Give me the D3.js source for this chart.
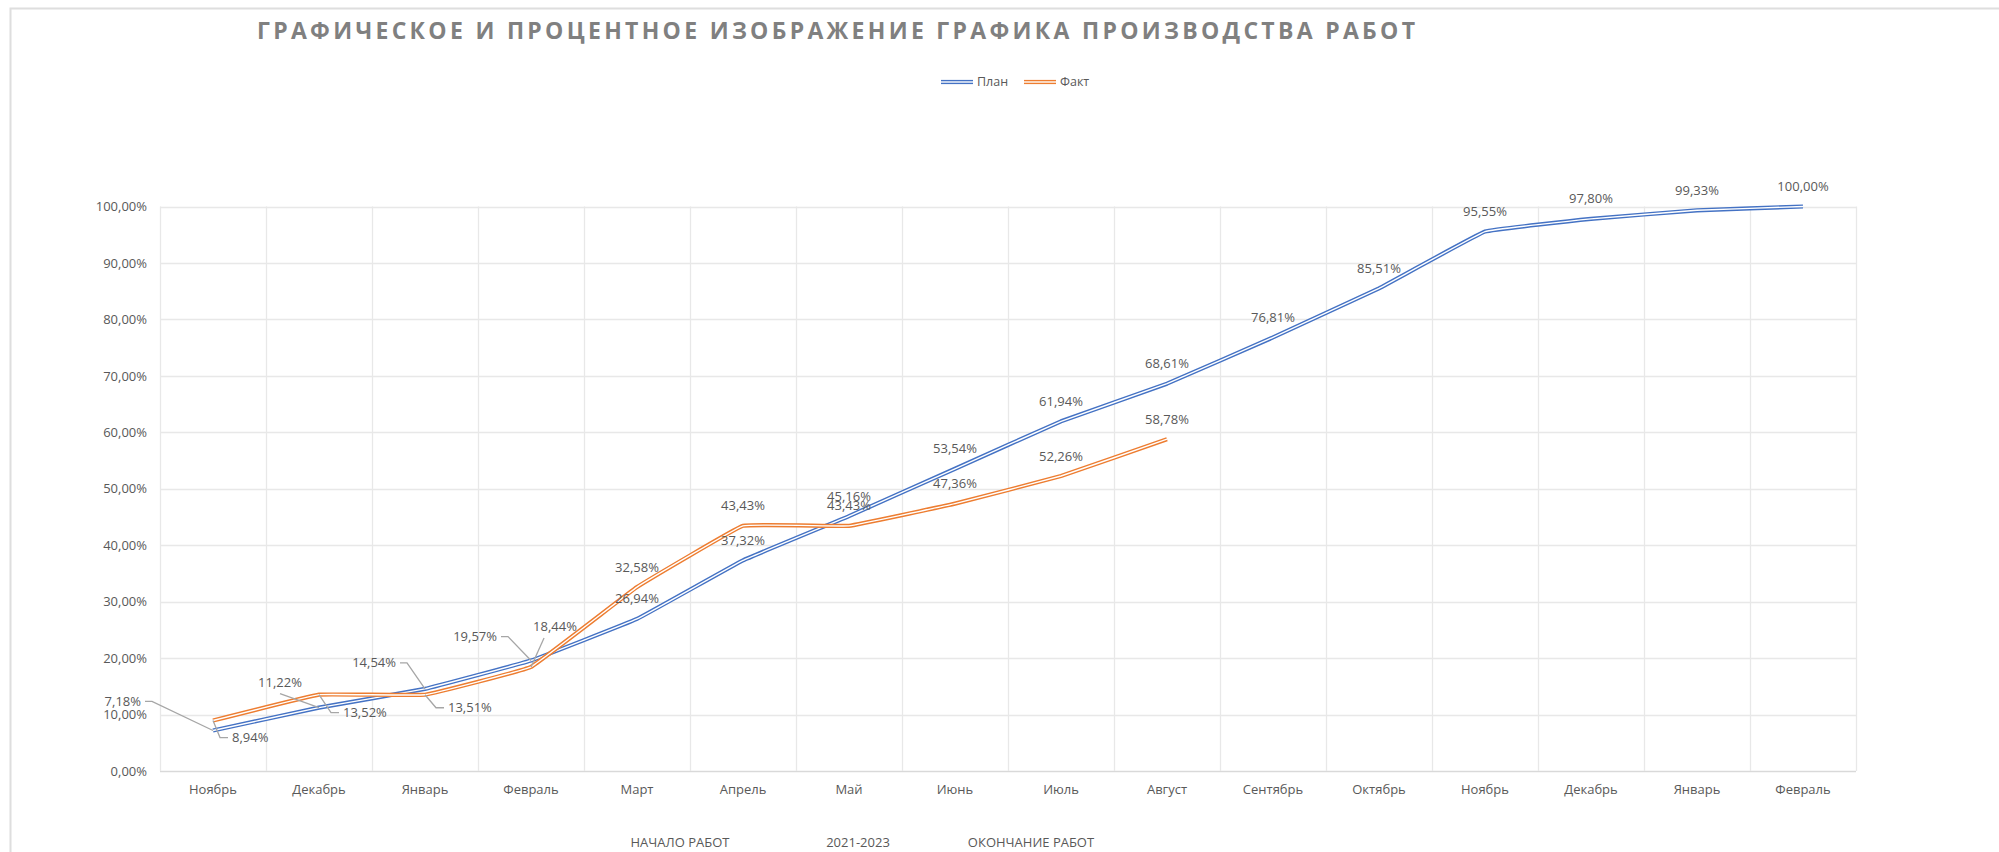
<!DOCTYPE html>
<html>
<head>
<meta charset="utf-8">
<script src="https://cdn.jsdelivr.net/npm/d3@7"></script>
<style>
  html, body { margin: 0; padding: 0; background: #ffffff; }
  svg { display: block; }
  text { font-family: "Open Sans", "Liberation Sans", Arial, sans-serif; fill: #595959; }
</style>
</head>
<body>
<div id="chart"></div>
<script>
// *** DATA *** //
var months = ["Ноябрь", "Декабрь", "Январь", "Февраль", "Март", "Апрель", "Май", "Июнь",
              "Июль", "Август", "Сентябрь", "Октябрь", "Ноябрь", "Декабрь", "Январь", "Февраль"];
var plan_values = [7.18, 11.22, 14.54, 19.57, 26.94, 37.32, 45.16, 53.54,
                   61.94, 68.61, 76.81, 85.51, 95.55, 97.80, 99.33, 100.00];
var fact_values = [8.94, 13.52, 13.51, 18.44, 32.58, 43.43, 43.43, 47.36,
                   52.26, 58.78];
var y_ticks = [0, 10, 20, 30, 40, 50, 60, 70, 80, 90, 100];
var series_names = ["План", "Факт"];
var title_text = "ГРАФИЧЕСКОЕ И ПРОЦЕНТНОЕ ИЗОБРАЖЕНИЕ ГРАФИКА ПРОИЗВОДСТВА РАБОТ";
var footer_texts = ["НАЧАЛО РАБОТ", "2021-2023", "ОКОНЧАНИЕ РАБОТ"];
////////////////

var create_chart = function() {
  // Change these to fine-tune the chart
  var full_width = 1999;
  var full_height = 852;
  var plot = { left: 160, right: 1856, top: 206.5, bottom: 771 };
  var colors = { plan: "#4472c4", fact: "#ed7d31" };
  var grid_color = "#e8e8e8";
  var leader_color = "#a6a6a6";
  var label_offset = 20;
  //////////////////////////////////

  var locale = d3.formatLocale({ decimal: ",", thousands: " ", grouping: [3], currency: ["", ""] });
  var pct = function(v) { return locale.format(".2f")(v) + "%"; };

  var svg = d3.select("#chart").append("svg")
      .attr("width", full_width)
      .attr("height", full_height);

  // chart frame
  svg.append("rect")
      .attr("x", 10.5).attr("y", 8.5)
      .attr("width", 2100).attr("height", 1000)
      .attr("fill", "none")
      .attr("stroke", "#dedede")
      .attr("stroke-width", 2);

  var x = d3.scaleBand()
      .domain(d3.range(months.length))
      .range([plot.left, plot.right]);
  var x_center = function(i) { return x(i) + x.bandwidth() / 2; };

  var y = d3.scaleLinear()
      .domain([0, 100])
      .range([plot.bottom, plot.top]);

  // *** GRID *** //
  svg.append("g").selectAll("line")
      .data(y_ticks)
    .enter().append("line")
      .attr("x1", plot.left).attr("x2", plot.right)
      .attr("y1", function(d) { return Math.round(y(d)) + 0.5; })
      .attr("y2", function(d) { return Math.round(y(d)) + 0.5; })
      .attr("stroke", function(d) { return d == 0 ? "#d9d9d9" : grid_color; })
      .attr("stroke-width", 1.3);

  svg.append("g").selectAll("line")
      .data(d3.range(months.length + 1))
    .enter().append("line")
      .attr("x1", function(i) { return Math.round(plot.left + i * x.step()) + 0.5; })
      .attr("x2", function(i) { return Math.round(plot.left + i * x.step()) + 0.5; })
      .attr("y1", plot.top).attr("y2", plot.bottom)
      .attr("stroke", grid_color)
      .attr("stroke-width", 1.3);

  // *** AXES *** //
  var y_axis = d3.axisLeft(y)
      .tickValues(y_ticks)
      .tickSize(0)
      .tickPadding(13)
      .tickFormat(pct);
  var gy = svg.append("g")
      .attr("transform", "translate(" + plot.left + ",0)")
      .call(y_axis);
  gy.select(".domain").remove();
  gy.selectAll("text").style("font-size", "13px").attr("fill", "#595959");

  var x_axis = d3.axisBottom(x)
      .tickSize(0)
      .tickPadding(14)
      .tickFormat(function(i) { return months[i]; });
  var gx = svg.append("g")
      .attr("transform", "translate(0," + plot.bottom + ")")
      .call(x_axis);
  gx.select(".domain").remove();
  gx.selectAll("text").style("font-size", "13px").attr("fill", "#595959");

  // *** LINES *** //
  var line = d3.line()
      .x(function(d, i) { return x_center(i); })
      .y(function(d) { return y(d); })
      .curve(d3.curveCardinal.tension(0.8));

  var draw_double_line = function(values, color) {
    svg.append("path")
        .attr("d", line(values))
        .attr("fill", "none")
        .attr("stroke", color)
        .attr("stroke-width", 4.2)
        .attr("stroke-linejoin", "round");
    svg.append("path")
        .attr("d", line(values))
        .attr("fill", "none")
        .attr("stroke", "#ffffff")
        .attr("stroke-width", 1.4)
        .attr("stroke-linejoin", "round");
  };

  draw_double_line(plan_values, colors.plan);
  draw_double_line(fact_values, colors.fact);

  // *** DATA LABELS *** //
  // labels moved away from the crowded start, with leader lines
  var callouts = {
    "plan-0": { anchor: "end", dx: -72, dy: -29 },
    "fact-0": { anchor: "start", dx: 19, dy: 17 },
    "plan-1": { anchor: "middle", dx: -39, dy: -25 },
    "fact-1": { anchor: "start", dx: 24, dy: 18 },
    "plan-2": { anchor: "end", dx: -29, dy: -26 },
    "fact-2": { anchor: "start", dx: 23, dy: 13 },
    "plan-3": { anchor: "end", dx: -34, dy: -24 },
    "fact-3": { anchor: "middle", dx: 24, dy: -40 }
  };

  var label_layer = svg.append("g");
  var leader_layer = svg.append("g");

  var draw_labels = function(values, key) {
    values.forEach(function(v, i) {
      var px = x_center(i);
      var py = y(v);
      var c = callouts[key + "-" + i];
      var t;
      if (!c) {
        label_layer.append("text")
            .attr("x", px)
            .attr("y", py - label_offset)
            .attr("dy", "0.35em")
            .attr("text-anchor", "middle")
            .style("font-size", "13px")
            .text(pct(v));
        return;
      }
      var lx = px + c.dx;
      var ly = py + c.dy;
      t = label_layer.append("text")
          .attr("x", lx)
          .attr("y", ly)
          .attr("dy", "0.35em")
          .attr("text-anchor", c.anchor)
          .style("font-size", "13px")
          .text(pct(v));
      var pts;
      if (c.anchor == "end") {
        pts = [[lx + 4, ly], [lx + 11, ly], [px, py]];
      } else if (c.anchor == "start") {
        pts = [[px, py], [lx - 12, ly], [lx - 4, ly]];
      } else {
        var w = t.node().getComputedTextLength();
        if (ly < py) {
          pts = [[lx + (px > lx ? 0 : -w / 4), ly + 11], [px, py]];
        } else {
          pts = [[lx, ly - 11], [px, py]];
        }
      }
      leader_layer.append("polyline")
          .attr("points", pts.map(function(p) { return p.join(","); }).join(" "))
          .attr("fill", "none")
          .attr("stroke", leader_color)
          .attr("stroke-width", 1.3);
    });
  };

  draw_labels(plan_values, "plan");
  draw_labels(fact_values, "fact");

  // *** TITLE *** //
  svg.append("text")
      .attr("x", 257)
      .attr("y", 39)
      .attr("textLength", 1158)
      .attr("lengthAdjust", "spacing")
      .style("font-size", "23px")
      .style("font-weight", "bold")
      .style("fill", "#808080")
      .text(title_text);

  // *** LEGEND *** //
  var legend_items = [
    { name: series_names[0], color: colors.plan, x: 941 },
    { name: series_names[1], color: colors.fact, x: 1024 }
  ];
  var legend_y = 82;
  legend_items.forEach(function(item) {
    svg.append("line")
        .attr("x1", item.x).attr("x2", item.x + 32)
        .attr("y1", legend_y).attr("y2", legend_y)
        .attr("stroke", item.color).attr("stroke-width", 4.2);
    svg.append("line")
        .attr("x1", item.x).attr("x2", item.x + 32)
        .attr("y1", legend_y).attr("y2", legend_y)
        .attr("stroke", "#ffffff").attr("stroke-width", 1.4);
    svg.append("text")
        .attr("x", item.x + 36)
        .attr("y", legend_y)
        .attr("dy", "0.35em")
        .style("font-size", "12.5px")
        .text(item.name);
  });

  // *** FOOTER *** //
  var footer_x = [680, 858, 1031];
  svg.append("g").selectAll("text")
      .data(footer_texts)
    .enter().append("text")
      .attr("x", function(d, i) { return footer_x[i]; })
      .attr("y", 842)
      .attr("dy", "0.35em")
      .attr("text-anchor", "middle")
      .style("font-size", "13px")
      .text(function(d) { return d; });
};

create_chart();
</script>
</body>
</html>
